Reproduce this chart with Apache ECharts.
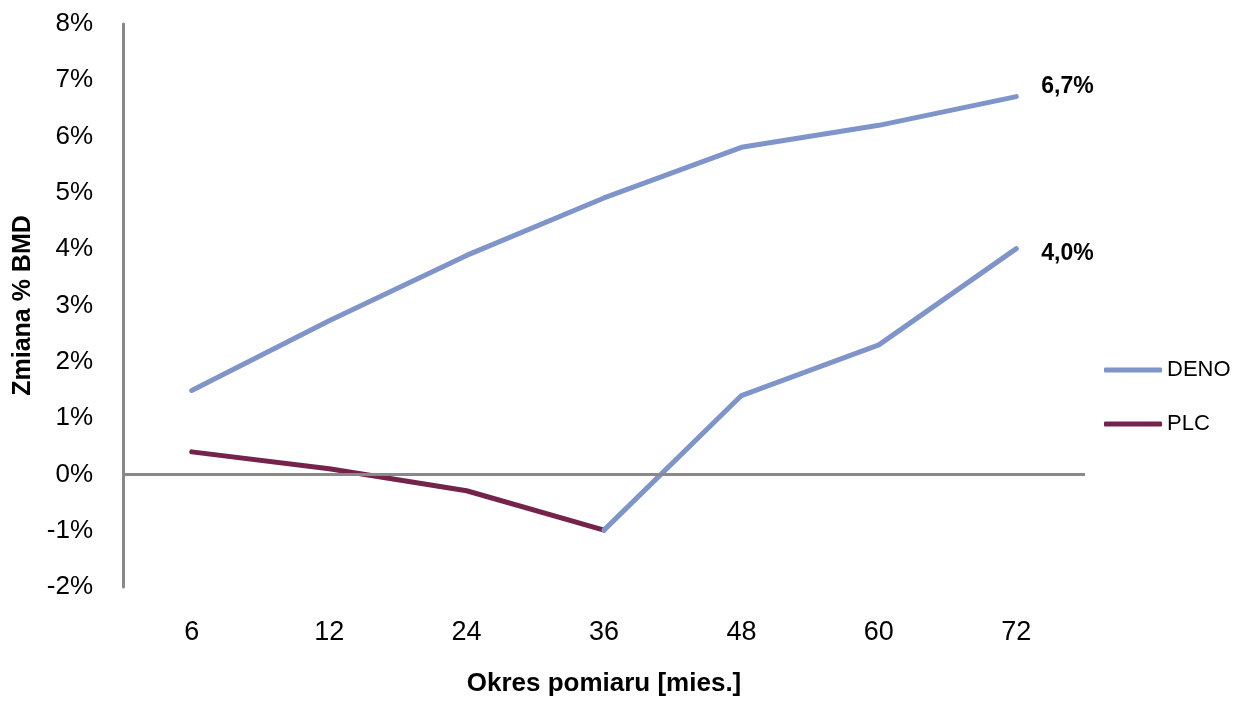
<!DOCTYPE html>
<html><head><meta charset="utf-8">
<script src="https://cdn.jsdelivr.net/npm/echarts@6/dist/echarts.min.js"></script>
<style>html,body{margin:0;padding:0;background:#fff}#c{width:1233px;height:702px}</style>
</head><body><div id="c"></div>
<script>
var categories = ['6', '12', '24', '36', '48', '60', '72'];
var deno = [1.49, 2.73, 3.89, 4.91, 5.81, 6.2, 6.71];
var plc = [0.4, 0.1, -0.29, -0.99, null, null, null];
var denoSwitch = [null, null, null, -0.99, 1.4, 2.3, 4.01];
var endLabels = { deno: '6,7%', denoSwitch: '4,0%' };
var yTicks = { min: -2, max: 8, interval: 1 };

var FONT = '"Liberation Sans", Arial, sans-serif';
var BLUE = '#7F95C9', MAROON = '#74234A', AXIS = '#898989';

function endLabel(text, dy) {
  return {
    show: true, distance: 25, offset: [0, dy],
    formatter: function () { return text; },
    fontFamily: FONT, fontWeight: 'bold', fontSize: 23, color: '#000'
  };
}

var chart = echarts.init(document.getElementById('c'));
chart.setOption({
  animation: false,
  grid: { left: 123, right: 148, top: 24, bottom: 111 },
  legend: {
    orient: 'vertical', left: 1104, top: 359, padding: 0, itemWidth: 58, itemHeight: 5, itemGap: 32,
    data: ['DENO', 'PLC'], icon: 'roundRect',
    textStyle: { fontFamily: FONT, fontSize: 22, color: '#000' }
  },
  xAxis: {
    type: 'category', data: categories, boundaryGap: true,
    axisLine: { show: false }, axisTick: { show: false },
    axisLabel: { margin: 32, fontFamily: FONT, fontSize: 27, color: '#000' },
    name: 'Okres pomiaru [mies.]', nameLocation: 'middle', nameGap: 84,
    nameTextStyle: { fontFamily: FONT, fontSize: 26, fontWeight: 'bold', color: '#000' }
  },
  yAxis: {
    type: 'value', min: yTicks.min, max: yTicks.max, interval: yTicks.interval,
    splitLine: { show: false },
    axisLine: { show: true, lineStyle: { color: AXIS, width: 3 } },
    axisTick: { show: false },
    axisLabel: { margin: 30, fontFamily: FONT, fontSize: 26, color: '#000', formatter: '{value}%' },
    name: 'Zmiana % BMD', nameLocation: 'middle', nameGap: 86,
    nameTextStyle: { fontFamily: FONT, fontSize: 25, fontWeight: 'bold', color: '#000' }
  },
  series: [
    {
      name: 'DENO', type: 'line', data: deno, symbol: 'none',
      lineStyle: { color: BLUE, width: 5, cap: 'round', join: 'round' }, itemStyle: { color: BLUE },
      endLabel: endLabel(endLabels.deno, -10), z: 3,
      markLine: {
        silent: true, symbol: 'none', label: { show: false },
        lineStyle: { color: AXIS, width: 3, type: 'solid' },
        data: [{ yAxis: 0 }]
      }
    },
    {
      name: 'PLC', type: 'line', data: plc, symbol: 'none',
      lineStyle: { color: MAROON, width: 5, cap: 'round', join: 'round' }, itemStyle: { color: MAROON }, z: 3
    },
    {
      name: 'DENO_switch', type: 'line', data: denoSwitch, symbol: 'none',
      lineStyle: { color: BLUE, width: 5, cap: 'round', join: 'round' }, itemStyle: { color: BLUE },
      endLabel: endLabel(endLabels.denoSwitch, 5), z: 4
    }
  ]
});
</script></body></html>
